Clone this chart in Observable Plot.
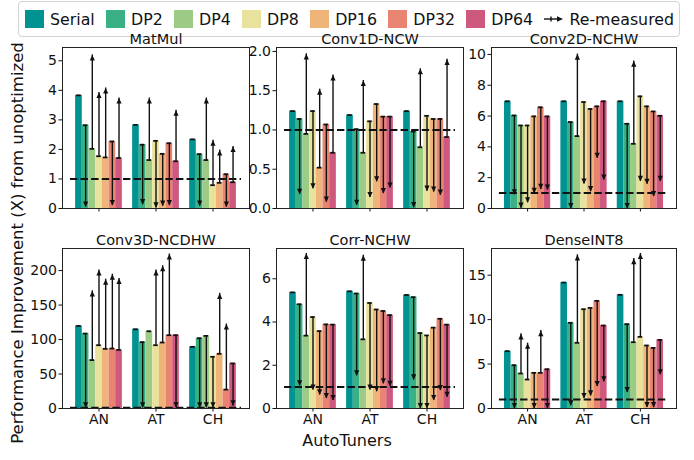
<!DOCTYPE html>
<html>
<head>
<meta charset="utf-8">
<script src="https://cdn.jsdelivr.net/npm/d3@7"></script>
<script src="https://cdn.jsdelivr.net/npm/@observablehq/plot@0.6"></script>
<style>
  body { margin: 0; background: #fff; font-family: "DejaVu Sans", sans-serif; }
  #root { position: relative; width: 694px; height: 460px; overflow: hidden; background: #fff; }
  .panel { position: absolute; }
  #legend { position: absolute; left: 18px; top: 1px; width: 662px; height: 36px; box-sizing: border-box;
            border: 1px solid #d3d3d3; border-radius: 4px; background: #fff; white-space: nowrap;
            display: flex; flex-wrap: nowrap; align-items: center; padding-left: 6px; font-size: 15.8px; color: #111; }
  .item { display: flex; align-items: center; margin-right: 11.3px; flex-shrink: 0; white-space: nowrap; }
  .sw { width: 19px; height: 18px; margin-right: 6px; flex-shrink: 0; }
  #ylabel { position: absolute; left: 17px; top: 243px; transform: translate(-50%, -50%) rotate(-90deg);
            white-space: nowrap; font-size: 16.5px; color: #111; }
  #xlabel { position: absolute; left: 347px; top: 440px; transform: translate(-50%, -50%);
            white-space: nowrap; font-size: 16px; color: #111; }
</style>
</head>
<body>
<div id="root"></div>
<script>
// ---------------- data ----------------
const tuners = ["AN", "AT", "CH"];
const series = ["Serial", "DP2", "DP4", "DP8", "DP16", "DP32", "DP64"];
const colors = ["#009392", "#39b185", "#9ccb86", "#e9e29c", "#eeb479", "#e88471", "#cf597e"];
const kernels = ["MatMul", "Conv1D-NCW", "Conv2D-NCHW", "Conv3D-NCDHW", "Corr-NCHW", "DenseINT8"];

// bar heights: [AN, AT, CH] x series
const matmulBars = [[3.83, 2.82, 2.02, 1.77, 1.73, 2.27, 1.71],
                    [2.83, 2.16, 1.64, 2.29, 1.85, 2.21, 1.60],
                    [2.34, 1.84, 1.64, 0.79, 0.87, 1.16, 0.89]];
const matmulRemeasured = [[3.83, 0.05, 5.20, 3.93, 4.08, 0.10, 3.74],
                          [2.83, 0.13, 3.74, 0.02, 0.08, 0.10, 3.33],
                          [2.34, 0.08, 3.74, 2.31, 1.98, 0.05, 2.10]];
const conv1dBars = [[1.24, 1.14, 0.95, 1.24, 0.52, 1.07, 0.71],
                    [1.19, 1.01, 0.71, 1.11, 1.33, 1.17, 1.17],
                    [1.24, 0.98, 0.78, 1.18, 1.14, 1.14, 0.91]];
const conv1dRemeasured = [[1.24, 0.18, 1.97, 0.25, 1.52, 0.08, 1.70],
                          [1.19, 0.04, 1.63, 0.14, 0.34, 0.19, 0.26],
                          [1.24, 0.01, 1.78, 0.22, 0.21, 0.17, 1.90]];
const conv2dBars = [[6.96, 6.04, 5.39, 5.39, 5.98, 6.57, 5.98],
                    [6.96, 5.61, 4.70, 6.91, 6.46, 6.63, 6.96],
                    [6.96, 5.50, 4.20, 7.28, 6.63, 6.30, 6.02]];
const conv2dRemeasured = [[6.96, 0.89, 0.02, 0.37, 0.98, 1.24, 1.20],
                          [6.96, 0.00, 10.02, 1.59, 1.09, 3.26, 1.85],
                          [6.96, 0.00, 9.57, 1.76, 1.57, 0.78, 1.76]];
const conv3dBars = [[119.7, 108.7, 70.2, 91.8, 86.5, 87.0, 85.0],
                    [114.9, 96.2, 112.0, 91.8, 95.7, 106.3, 106.3],
                    [89.4, 101.9, 105.3, 75.0, 79.3, 27.4, 65.4]];
const conv3dRemeasured = [[119.7, 1.0, 170.7, 201.0, 187.5, 194.7, 188.5],
                          [114.9, 1.0, 112.0, 201.0, 207.0, 224.0, 1.0],
                          [89.4, 1.0, 1.0, 1.0, 167.0, 122.6, 3.8]];
const corrBars = [[5.37, 4.82, 3.37, 4.23, 3.58, 3.89, 3.88],
                  [5.42, 5.32, 3.20, 4.88, 4.58, 4.51, 4.32],
                  [5.25, 5.15, 3.49, 3.38, 3.74, 4.15, 3.88]];
const corrRemeasured = [[5.37, 1.05, 7.17, 0.85, 0.63, 0.46, 0.37],
                        [5.42, 1.51, 7.09, 0.85, 0.78, 1.14, 1.03],
                        [5.25, 1.32, 0.00, 0.00, 0.37, 0.83, 0.52]];
const denseBars = [[6.45, 4.87, 3.94, 3.26, 4.01, 4.01, 4.42],
                   [14.17, 9.64, 7.39, 11.17, 11.32, 12.11, 9.34],
                   [12.79, 9.49, 7.46, 8.06, 7.09, 6.82, 7.72]];
const denseRemeasured = [[6.45, 0.00, 8.40, 7.35, 0.00, 8.77, 0.00],
                         [14.17, 0.30, 17.29, 1.12, 1.42, 2.47, 3.00],
                         [12.79, 1.80, 16.87, 17.44, 0.10, 0.10, 3.79]];
const baseline = [1];

const yMax = [5.45, 2.05, 10.45, 232, 7.4, 18];
const yTicks = [[0, 1, 2, 3, 4, 5], [0, 0.5, 1, 1.5, 2], [0, 2, 4, 6, 8, 10],
                [0, 50, 100, 150, 200], [0, 2, 4, 6], [0, 5, 10, 15]];
const yDecimals = [0, 1, 0, 0, 0, 0];

const allBars = [matmulBars, conv1dBars, conv2dBars, conv3dBars, corrBars, denseBars];
const allRemeasured = [matmulRemeasured, conv1dRemeasured, conv2dRemeasured, conv3dRemeasured, corrRemeasured, denseRemeasured];

// ---------------- layout ----------------
const colLeft = [62, 276, 491], colWidth = [187, 187, 185];
const rowTop = [47, 248], rowHeight = [161, 160];
const mL = 46, mR = 8, mT = 26, mB = 30;
const groupWidth = 0.82, barW = groupWidth / series.length, capHalf = 0.04;
const xDomain = [-0.64, 2.64], dashSpan = [-0.5, 2.5];
const ink = "#111";

const arrowUp = { draw(ctx) { ctx.moveTo(0, 0); ctx.lineTo(2.6, 5.6); ctx.lineTo(-2.6, 5.6); ctx.closePath(); } };
const arrowDown = { draw(ctx) { ctx.moveTo(0, 0); ctx.lineTo(2.6, -5.6); ctx.lineTo(-2.6, -5.6); ctx.closePath(); } };

const root = document.getElementById("root");

// legend
const legend = document.createElement("div");
legend.id = "legend";
series.forEach((s, i) => {
  const it = document.createElement("div");
  it.className = "item";
  it.innerHTML = `<div class="sw" style="background:${colors[i]}"></div><span>${s}</span>`;
  legend.appendChild(it);
});
const rm = document.createElement("div");
rm.className = "item";
rm.innerHTML = `<svg width="19" height="18" style="margin-right:6px;flex-shrink:0" viewBox="0 0 19 18">
  <line x1="0" y1="9" x2="14" y2="9" stroke="${ink}" stroke-width="1.4"/>
  <line x1="7" y1="6.5" x2="7" y2="11.5" stroke="${ink}" stroke-width="1.4"/>
  <path d="M19,9 L13,6.3 L13,11.7 Z" fill="${ink}"/></svg><span>Re-measured</span>`;
legend.appendChild(rm);
root.appendChild(legend);

function makePanel(i) {
  const col = i % 3, row = Math.floor(i / 3);
  const w = colWidth[col], h = rowHeight[row];
  const bars = allBars[i], rem = allRemeasured[i];
  const data = [];
  tuners.forEach((t, g) => series.forEach((s, k) => {
    const x1 = g - groupWidth / 2 + k * barW;
    data.push({ tuner: t, series: s, x1, x2: x1 + barW, cx: x1 + barW / 2, v: bars[g][k], r: rem[g][k] });
  }));
  const moved = data.filter(d => Math.abs(d.r - d.v) > 1e-9);
  const up = moved.filter(d => d.r > d.v), down = moved.filter(d => d.r < d.v);
  const fmt = d3.format(yDecimals[i] ? ".1f" : "d");
  const svg = Plot.plot({
    width: mL + w + mR, height: mT + h + mB,
    marginLeft: mL, marginRight: mR, marginTop: mT, marginBottom: mB,
    x: { domain: xDomain },
    y: { domain: [0, yMax[i]] },
    color: { domain: series, range: colors },
    style: { fontFamily: "DejaVu Sans, sans-serif", fontSize: "14px", color: ink, background: "transparent", overflow: "visible" },
    marks: [
      Plot.rect(data, { x1: "x1", x2: "x2", y1: 0, y2: "v", fill: "series" }),
      Plot.ruleY(baseline, { x1: dashSpan[0], x2: dashSpan[1], stroke: ink, strokeWidth: 2, strokeDasharray: "7.4,3.2" }),
      Plot.ruleX(moved, { x: "cx", y1: "v", y2: "r", stroke: ink, strokeWidth: 1.4 }),
      Plot.ruleY(data, { y: "v", x1: d => d.cx - capHalf, x2: d => d.cx + capHalf, stroke: ink, strokeWidth: 1.8 }),
      Plot.dot(up, { x: "cx", y: "r", symbol: arrowUp, fill: ink, stroke: "none" }),
      Plot.dot(down, { x: "cx", y: "r", symbol: arrowDown, fill: ink, stroke: "none" }),
      Plot.axisY({ ticks: yTicks[i], tickFormat: fmt, tickSize: 3.5, tickPadding: 2, label: null }),
      Plot.axisX({ ticks: [0, 1, 2], tickFormat: row === 1 ? (d => tuners[d]) : () => "", tickSize: 3.5, tickPadding: 2, label: null }),
      Plot.frame({ stroke: "#222", strokeWidth: 1 }),
      Plot.text([kernels[i]], { text: d => d, frameAnchor: "top", lineAnchor: "bottom", dy: -4, fontSize: 14.5, fill: ink })
    ]
  });
  svg.classList.add("panel");
  svg.style.left = (colLeft[col] - mL) + "px";
  svg.style.top = (rowTop[row] - mT) + "px";
  root.appendChild(svg);
}
kernels.forEach((k, i) => makePanel(i));

const yl = document.createElement("div");
yl.id = "ylabel";
yl.textContent = "Performance Improvement (X) from unoptimized";
root.appendChild(yl);
const xl = document.createElement("div");
xl.id = "xlabel";
xl.textContent = "AutoTuners";
root.appendChild(xl);
</script>
</body>
</html>
